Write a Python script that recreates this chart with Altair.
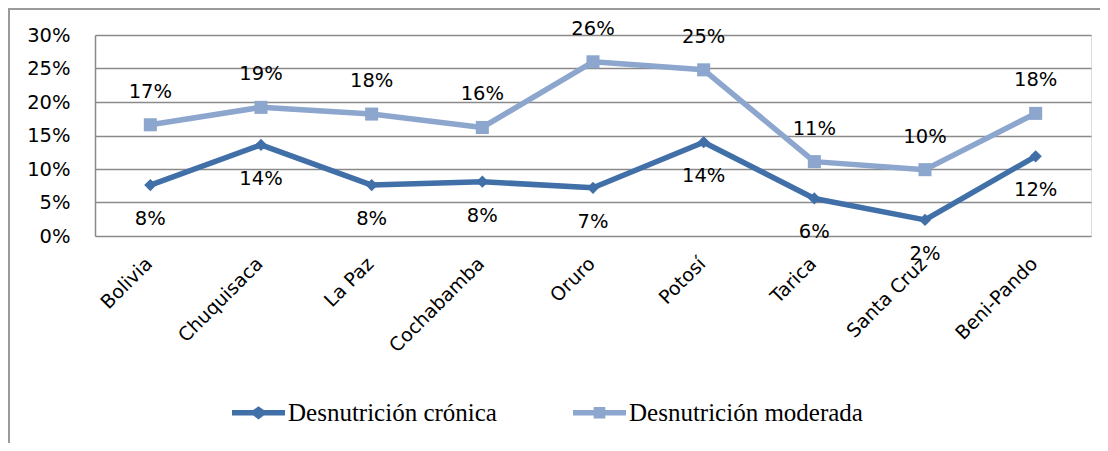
import altair as alt
import pandas as pd

regions = ["Bolivia", "Chuquisaca", "La Paz", "Cochabamba", "Oruro", "Potosí",
           "Tarica", "Santa Cruz", "Beni-Pando"]
cronica = [0.076, 0.136, 0.076, 0.081, 0.072, 0.140, 0.056, 0.024, 0.119]
moderada = [0.166, 0.192, 0.182, 0.162, 0.260, 0.248, 0.111, 0.099, 0.183]
series_names = ["Desnutrición crónica", "Desnutrición moderada"]
series_colors = ["#4170A8", "#8CA6CE"]
y_ticks = [0, 0.05, 0.10, 0.15, 0.20, 0.25, 0.30]

rows = []
for r, c, m in zip(regions, cronica, moderada):
    rows.append({"region": r, "series": series_names[0], "value": c})
    rows.append({"region": r, "series": series_names[1], "value": m})
df = pd.DataFrame(rows)

W, H = 996, 201
PAD = {"left": 87, "top": 27, "right": 9, "bottom": 207}
FONT = "DejaVu Sans"

legend_paths = [
    "M-1,-0.1 L-0.2,-0.1 L0,-0.25 L0.2,-0.1 L1,-0.1 L1,0.1 L0.2,0.1 L0,0.25 L-0.2,0.1 L-1,0.1 Z",
    "M-1,-0.1 L-0.22,-0.1 L-0.22,-0.22 L0.22,-0.22 L0.22,-0.1 L1,-0.1 L1,0.1 L0.22,0.1 L0.22,0.22 L-0.22,0.22 L-0.22,0.1 L-1,0.1 Z",
]

color_scale = alt.Scale(domain=series_names, range=series_colors)

x_enc = alt.X("region:N", sort=regions,
              scale=alt.Scale(type="point", padding=0.5),
              axis=alt.Axis(title=None, labelAngle=-45, labelAlign="right",
                            labelBaseline="top", labelPadding=18, labelOffset=-8,
                            labelFontSize=19, labelFont=FONT, labelColor="#000",
                            domain=False, ticks=False, grid=False))
y_enc = alt.Y("value:Q", scale=alt.Scale(domain=[0, 0.3], nice=False),
              axis=alt.Axis(title=None, values=y_ticks, format=".0%",
                            labelFontSize=19.5, labelFont=FONT, labelColor="#000",
                            labelPadding=25, ticks=False, domain=True,
                            domainColor="#8a8a8a", domainWidth=1.5,
                            grid=True, gridColor="#8a8a8a", gridWidth=1.5))

base = alt.Chart(df)

leg = alt.Legend(title=None, orient="none", direction="horizontal",
                 legendX=137, legendY=351, padding=0,
                 symbolSize=2809, symbolStrokeWidth=0, symbolOpacity=1,
                 labelFont="Liberation Serif", labelFontSize=25,
                 labelColor="#000", labelOffset=3,
                 columnPadding=76, labelLimit=400)

legend_layer = base.mark_point(filled=True, opacity=0).encode(
    x=x_enc, y=y_enc,
    color=alt.Color("series:N", scale=color_scale, legend=leg),
    shape=alt.Shape("series:N", scale=alt.Scale(domain=series_names, range=legend_paths),
                    legend=leg),
)

lines = base.mark_line(strokeWidth=5.5, strokeJoin="round").encode(
    x=x_enc, y=y_enc,
    color=alt.Color("series:N", scale=color_scale),
    detail="series:N",
)

pts_c = base.transform_filter(alt.datum.series == series_names[0]).mark_point(
    shape="diamond", filled=True, size=150, opacity=1).encode(
    x=x_enc, y=y_enc,
    color=alt.Color("series:N", scale=color_scale))

pts_m = base.transform_filter(alt.datum.series == series_names[1]).mark_point(
    shape="square", filled=True, size=170, opacity=1).encode(
    x=x_enc, y=y_enc,
    color=alt.Color("series:N", scale=color_scale))

txt_c = base.transform_filter(alt.datum.series == series_names[0]).mark_text(
    dy=34, fontSize=19.5, font=FONT, color="#000").encode(
    x=x_enc, y=y_enc, text=alt.Text("value:Q", format=".0%"))

txt_m = base.transform_filter(alt.datum.series == series_names[1]).mark_text(
    dy=-33, fontSize=19.5, font=FONT, color="#000").encode(
    x=x_enc, y=y_enc, text=alt.Text("value:Q", format=".0%"))

frame_df = pd.DataFrame({"k": [0]})
left_border = alt.Chart(frame_df).mark_rule(color="#9a9a9a", strokeWidth=2).encode(
    x=alt.value(-86), y=alt.value(-27), y2=alt.value(H + PAD["bottom"]))
top_border = alt.Chart(frame_df).mark_rule(color="#9a9a9a", strokeWidth=2).encode(
    y=alt.value(-26), x=alt.value(-87), x2=alt.value(W + PAD["right"]))

chart = alt.layer(legend_layer, lines, pts_c, pts_m, txt_c, txt_m,
                  left_border, top_border).properties(
    width=W, height=H,
    autosize=alt.AutoSizeParams(type="none"),
    padding=PAD,
).configure_view(stroke=None).configure(background="white")

chart.save("out.html", embed_options={"renderer": "svg", "actions": False})
